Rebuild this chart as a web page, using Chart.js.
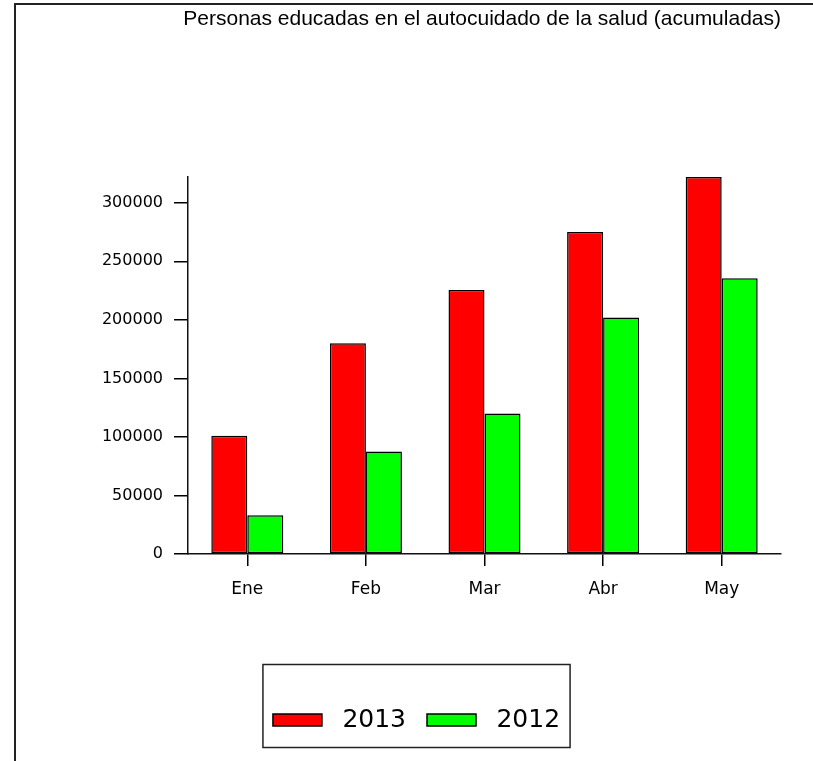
<!DOCTYPE html>
<html>
<head>
<meta charset="utf-8">
<script src="https://cdn.jsdelivr.net/npm/chart.js@4/dist/chart.umd.min.js"></script>
<style>
  html, body { margin: 0; padding: 0; background: #fff; }
  #wrap { position: relative; width: 813px; height: 761px; overflow: hidden; background: #fff; }
  #c { position: absolute; left: 0; top: 0; }
  .bt { position: absolute; left: 14px; top: 3px; width: 799px; height: 2px; background: #222; }
  .bl { position: absolute; left: 14px; top: 3px; width: 2px; height: 758px; background: #222; }
</style>
</head>
<body>
<div id="wrap">
  <canvas id="c" width="813" height="761"></canvas>
  <div class="bt"></div>
  <div class="bl"></div>
</div>
<script>
const titleText = 'Personas educadas en el autocuidado de la salud (acumuladas)';
const months = ['Ene', 'Feb', 'Mar', 'Abr', 'May'];
const seriesNames = ['2013', '2012'];
const values2013 = [101000, 180000, 225500, 275000, 322000];
const values2012 = [33000, 87500, 120000, 202000, 235500];
const yTickValues = [0, 50000, 100000, 150000, 200000, 250000, 300000];

const legendFrame = {
  id: 'legendFrame',
  afterDraw(chart) {
    const lg = chart.legend;
    if (!lg || !lg.legendHitBoxes || !lg.legendHitBoxes.length) return;
    const hb = lg.legendHitBoxes;
    const x0 = hb[0].left - 10;
    const x1 = hb[hb.length - 1].left + hb[hb.length - 1].width + 10;
    const y0 = lg.top - 22;
    const y1 = lg.bottom + 5;
    const ctx = chart.ctx;
    ctx.save();
    ctx.strokeStyle = '#222';
    ctx.lineWidth = 1.5;
    ctx.strokeRect(x0, y0, x1 - x0, y1 - y0);
    ctx.restore();
  }
};

const bgPlugin = {
  id: 'bg',
  beforeDraw(chart) {
    const ctx = chart.ctx;
    ctx.save();
    ctx.fillStyle = '#fff';
    ctx.fillRect(0, 0, chart.width, chart.height);
    ctx.restore();
  }
};

new Chart(document.getElementById('c'), {
  type: 'bar',
  data: {
    labels: months,
    datasets: [
      { label: ' ' + seriesNames[0], data: values2013, backgroundColor: '#ff0000', borderColor: '#000', borderWidth: 1.5, borderSkipped: false },
      { label: ' ' + seriesNames[1], data: values2012, backgroundColor: '#00ff00', borderColor: '#000', borderWidth: 1.5, borderSkipped: false }
    ]
  },
  options: {
    responsive: false,
    animation: false,
    devicePixelRatio: 1,
    layout: { padding: { left: 52, right: 32, top: 0, bottom: 18.5 } },
    datasets: { bar: { categoryPercentage: 0.607, barPercentage: 1 } },
    plugins: {
      title: {
        display: true,
        text: titleText,
        align: 'end',
        color: '#000',
        font: { family: "'Liberation Sans', Arial, sans-serif", size: 21, weight: 'normal', lineHeight: 1.2 },
        padding: { top: 7, bottom: 144.8 }
      },
      legend: {
        display: true,
        position: 'bottom',
        align: 'center',
        labels: {
          color: '#000',
          font: { family: "'DejaVu Sans', sans-serif", size: 25 },
          boxWidth: 49,
          boxHeight: 12,
          padding: 21
        }
      },
      tooltip: { enabled: false }
    },
    scales: {
      x: {
        afterFit(scale) { scale.height = 132.5; },
        grid: { display: true, drawOnChartArea: false, offset: false, tickLength: 12, color: '#000', lineWidth: 1.5 },
        border: { display: true, color: '#111', width: 1.5 },
        ticks: { color: '#000', font: { family: "'DejaVu Sans', sans-serif", size: 17 }, padding: 13 }
      },
      y: {
        min: 0,
        max: Math.max(...values2013, ...values2012),
        afterFit(scale) { scale.width = 136; },
        afterBuildTicks(scale) { scale.ticks = yTickValues.map(v => ({ value: v })); },
        grid: { display: true, drawOnChartArea: false, tickLength: 14, color: '#000', lineWidth: 1.5 },
        border: { display: true, color: '#111', width: 1.5 },
        ticks: {
          color: '#000',
          font: { family: "'DejaVu Sans', sans-serif", size: 16 },
          padding: 11,
          callback: (v) => String(v)
        }
      }
    }
  },
  plugins: [bgPlugin, legendFrame]
});
</script>
</body>
</html>
